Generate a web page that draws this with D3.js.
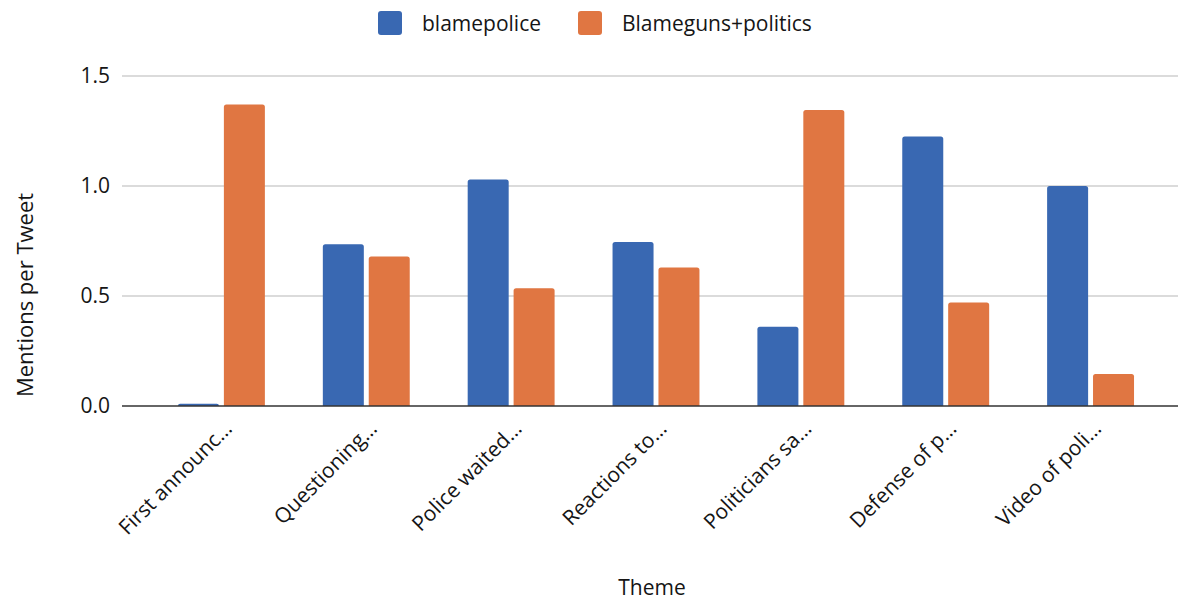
<!DOCTYPE html>
<html>
<head>
<meta charset="utf-8">
<script src="https://cdn.jsdelivr.net/npm/d3@7"></script>
<style>
  html, body { margin: 0; padding: 0; background: #fff; }
  svg { display: block; font-family: "Open Sans", sans-serif; }
</style>
</head>
<body>
<svg id="chart" width="1178" height="600"></svg>
<script>
// Theme labels along the x axis
const themes = [
  "First announc…",
  "Questioning…",
  "Police waited…",
  "Reactions to…",
  "Politicians sa…",
  "Defense of p…",
  "Video of poli…"
];

// Series names (legend order)
const seriesNames = ["blamepolice", "Blameguns+politics"];

// Mentions per tweet, one value per theme
const blamepolice = [0.01, 0.735, 1.03, 0.745, 0.36, 1.225, 1.0];
const blamegunsPolitics = [1.37, 0.68, 0.535, 0.63, 1.345, 0.47, 0.145];

// Y axis ticks
const yTicks = [0, 0.5, 1.0, 1.5];

const colors = ["#3968b2", "#e07642"];
const textColor = "#151515";

const svg = d3.select("#chart");

const plotLeft = 122, plotRight = 1178;
const plotTop = 76, plotBottom = 406;

const x0 = d3.scaleBand()
  .domain(themes)
  .range([149, 1163])
  .paddingInner(0.4)
  .paddingOuter(0.2);

const x1 = d3.scaleBand()
  .domain(seriesNames)
  .range([0, x0.bandwidth()])
  .paddingInner(0.107);

const y = d3.scaleLinear()
  .domain([0, 1.5])
  .range([plotBottom, plotTop]);

// Gridlines
svg.append("g")
  .selectAll("line")
  .data(yTicks.filter(t => t !== 0))
  .join("line")
  .attr("x1", plotLeft)
  .attr("x2", plotRight)
  .attr("y1", d => y(d))
  .attr("y2", d => y(d))
  .attr("stroke", "#cfcfcf")
  .attr("stroke-width", 1.5);

// Y axis labels
const yAxis = d3.axisLeft(y)
  .tickValues(yTicks)
  .tickFormat(d3.format(".1f"))
  .tickSize(0)
  .tickPadding(0);

svg.append("g")
  .attr("transform", `translate(110,0)`)
  .call(yAxis)
  .call(g => g.select(".domain").remove())
  .call(g => g.selectAll("text")
    .attr("font-family", "Open Sans, sans-serif")
    .attr("font-size", 21)
    .attr("fill", textColor));

// Bars with slightly rounded top corners
const rows = themes.map((t, i) => ({
  theme: t,
  values: [
    { key: seriesNames[0], value: blamepolice[i] },
    { key: seriesNames[1], value: blamegunsPolitics[i] }
  ]
}));

function barPath(x, yTop, w, yBase, r) {
  const h = yBase - yTop;
  const rr = Math.min(r, h, w / 2);
  return `M${x},${yBase}V${yTop + rr}Q${x},${yTop} ${x + rr},${yTop}` +
         `H${x + w - rr}Q${x + w},${yTop} ${x + w},${yTop + rr}V${yBase}Z`;
}

svg.append("g")
  .selectAll("g")
  .data(rows)
  .join("g")
  .attr("transform", d => `translate(${x0(d.theme)},0)`)
  .selectAll("path")
  .data(d => d.values)
  .join("path")
  .attr("d", d => barPath(x1(d.key), y(d.value), x1.bandwidth(), y(0), 2.5))
  .attr("fill", (d, i) => colors[i]);

// Baseline
svg.append("line")
  .attr("x1", plotLeft)
  .attr("x2", plotRight)
  .attr("y1", y(0))
  .attr("y2", y(0))
  .attr("stroke", "#333")
  .attr("stroke-width", 1.5);

// Rotated category labels
svg.append("g")
  .selectAll("text")
  .data(themes)
  .join("text")
  .attr("transform", d => `translate(${x0(d) + x0.bandwidth() / 2 + 12},430) rotate(-45)`)
  .attr("text-anchor", "end")
  .attr("font-size", 21)
  .attr("fill", textColor)
  .text(d => d);

// Axis titles
svg.append("text")
  .attr("transform", "translate(33,295) rotate(-90)")
  .attr("text-anchor", "middle")
  .attr("font-size", 22)
  .attr("fill", textColor)
  .text("Mentions per Tweet");

svg.append("text")
  .attr("x", 652)
  .attr("y", 595)
  .attr("text-anchor", "middle")
  .attr("font-size", 21)
  .attr("fill", textColor)
  .text("Theme");

// Legend
const legendX = [378, 578];
const legend = svg.append("g")
  .selectAll("g")
  .data(seriesNames)
  .join("g")
  .attr("transform", (d, i) => `translate(${legendX[i]},11)`);

legend.append("rect")
  .attr("width", 24)
  .attr("height", 24)
  .attr("rx", 3)
  .attr("fill", (d, i) => colors[i]);

legend.append("text")
  .attr("x", 44)
  .attr("y", 20)
  .attr("font-size", 21)
  .attr("fill", textColor)
  .text(d => d);
</script>
</body>
</html>
